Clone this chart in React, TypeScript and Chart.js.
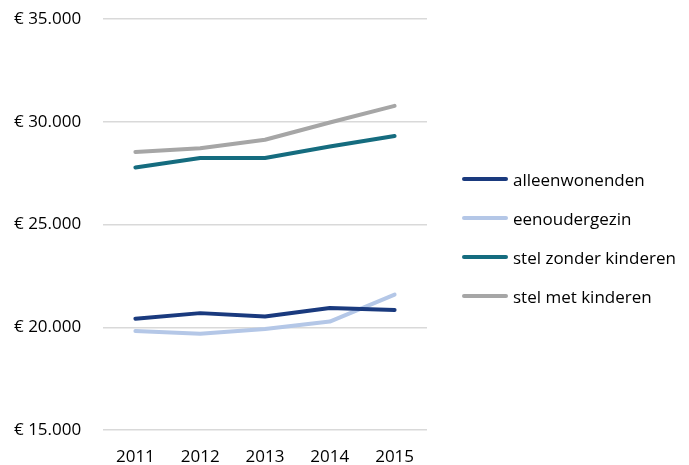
import React, { useEffect, useRef } from "react";
import { Chart, registerables } from "chart.js";

Chart.register(...registerables);

const years = ["2011", "2012", "2013", "2014", "2015"];
const alleenwonenden = [20420, 20690, 20530, 20940, 20840];
const eenoudergezin = [19820, 19690, 19920, 20280, 21590];
const stelZonderKinderen = [27780, 28240, 28240, 28800, 29310];
const stelMetKinderen = [28540, 28720, 29130, 29970, 30780];
const seriesNames = ["alleenwonenden", "eenoudergezin", "stel zonder kinderen", "stel met kinderen"];
const colors = ["#1a3a7e", "#b4c7e7", "#156c7f", "#a6a6a6"];

const FONT = "'Open Sans', Lato, sans-serif";
const legendRowsY = [179, 218, 257, 296];

export default function App() {
  const ref = useRef<HTMLCanvasElement | null>(null);
  useEffect(() => {
    if (!ref.current) return;
    const data = [alleenwonenden, eenoudergezin, stelZonderKinderen, stelMetKinderen];
    const chart = new Chart(ref.current, {
      type: "line",
      data: {
        labels: years,
        datasets: data.map((d, i) => ({
          label: seriesNames[i],
          data: d,
          borderColor: colors[i],
          backgroundColor: colors[i],
          borderWidth: 4,
          pointRadius: 0,
          pointHoverRadius: 0,
          tension: 0,
          borderCapStyle: "round" as const,
          borderJoinStyle: "round" as const,
        })),
      },
      options: {
        animation: false,
        responsive: false,
        maintainAspectRatio: false,
        layout: { padding: { left: 14, top: 0, right: 262, bottom: 0 } },
        plugins: {
          tooltip: { enabled: false },
          legend: { display: false },
        },
        scales: {
          x: {
            offset: true,
            grid: { display: false, drawTicks: false },
            border: { display: false },
            ticks: { color: "#000", font: { family: FONT, size: 17 }, padding: 17 },
            afterFit: (s: any) => {
              s.height = 35;
            },
          },
          y: {
            min: 15000,
            max: 35000,
            grid: { color: "#d9d9d9", lineWidth: 1.5, drawTicks: false },
            border: { display: false },
            ticks: {
              stepSize: 5000,
              color: "#000",
              crossAlign: "far",
              padding: 20,
              font: { family: FONT, size: 17 },
              callback: (v: any) => "€ " + Number(v).toLocaleString("nl-NL"),
            },
            afterFit: (s: any) => {
              s.width = 89;
            },
          },
        },
      },
    });
    return () => chart.destroy();
  }, []);
  return (
    <div style={{ position: "absolute", left: 0, top: 0, width: 689, height: 465, background: "#fff", overflow: "hidden" }}>
      <canvas ref={ref} width={689} height={476} style={{ position: "absolute", left: 0, top: -11 }} />
      {seriesNames.map((name, i) => (
        <div
          key={name}
          style={{
            position: "absolute",
            left: 460,
            top: legendRowsY[i] - 12,
            height: 24,
            display: "flex",
            alignItems: "center",
            fontFamily: FONT,
            fontSize: 17,
            color: "#000",
            whiteSpace: "nowrap",
          }}
        >
          <span
            style={{
              display: "inline-block",
              width: 46,
              height: 4,
              borderRadius: 2,
              background: colors[i],
              marginLeft: 2,
              marginRight: 5,
            }}
          />
          <span>{name}</span>
        </div>
      ))}
    </div>
  );
}
